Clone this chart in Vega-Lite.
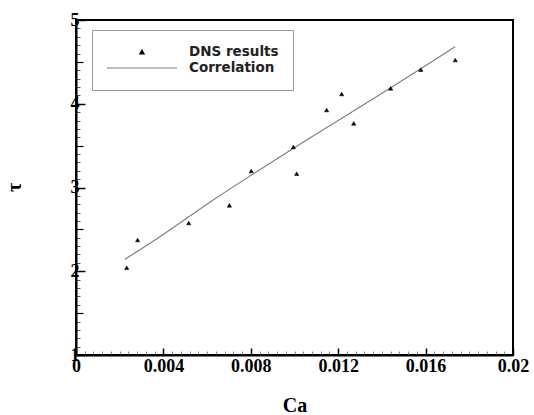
{
  "$schema": "https://vega.github.io/schema/vega-lite/v6.json",
  "width": 437,
  "height": 335,
  "autosize": "none",
  "padding": {"left": 76, "top": 20, "right": 21, "bottom": 60},
  "background": "white",
  "config": {
    "view": {"stroke": "black", "strokeWidth": 2},
    "axis": {
      "labelFont": "Liberation Serif",
      "labelFontWeight": "bold",
      "labelFontSize": 18,
      "labelColor": "black",
      "titleFont": "Liberation Serif",
      "titleFontWeight": "bold",
      "titleFontSize": 20,
      "titleColor": "black",
      "grid": false,
      "domainColor": "black",
      "domainWidth": 2,
      "tickColor": "black"
    }
  },
  "datasets": {
    "dns": [
      {"Ca": 0.00232, "tau": 2.042, "series": "DNS results"},
      {"Ca": 0.00282, "tau": 2.373, "series": "DNS results"},
      {"Ca": 0.00516, "tau": 2.576, "series": "DNS results"},
      {"Ca": 0.00702, "tau": 2.787, "series": "DNS results"},
      {"Ca": 0.00802, "tau": 3.197, "series": "DNS results"},
      {"Ca": 0.00995, "tau": 3.484, "series": "DNS results"},
      {"Ca": 0.0101, "tau": 3.165, "series": "DNS results"},
      {"Ca": 0.01147, "tau": 3.925, "series": "DNS results"},
      {"Ca": 0.01216, "tau": 4.116, "series": "DNS results"},
      {"Ca": 0.01271, "tau": 3.766, "series": "DNS results"},
      {"Ca": 0.0144, "tau": 4.184, "series": "DNS results"},
      {"Ca": 0.01578, "tau": 4.407, "series": "DNS results"},
      {"Ca": 0.01736, "tau": 4.522, "series": "DNS results"}
    ],
    "corr": [
      {"Ca": 0.00224, "tau": 2.143},
      {"Ca": 0.00384, "tau": 2.413},
      {"Ca": 0.00628, "tau": 2.851},
      {"Ca": 0.00995, "tau": 3.468},
      {"Ca": 0.01437, "tau": 4.184},
      {"Ca": 0.01574, "tau": 4.411},
      {"Ca": 0.01735, "tau": 4.681}
    ]
  },
  "layer": [
    {
      "data": {"name": "corr"},
      "mark": {"type": "line", "color": "#808080", "strokeWidth": 1.2, "interpolate": "monotone"},
      "encoding": {
        "x": {"field": "Ca", "type": "quantitative", "scale": {"domain": [0, 0.02], "nice": false, "zero": false},
          "axis": {"orient": "bottom", "values": [0.0004,0.0008,0.0012,0.0016,0.002,0.0024,0.0028,0.0032,0.0036,0.0044,0.0048,0.0052,0.0056,0.006,0.0064,0.0068,0.0072,0.0076,0.0084,0.0088,0.0092,0.0096,0.01,0.0104,0.0108,0.0112,0.0116,0.0124,0.0128,0.0132,0.0136,0.014,0.0144,0.0148,0.0152,0.0156,0.0164,0.0168,0.0172,0.0176,0.018,0.0184,0.0188,0.0192,0.0196], "labels": false, "domain": false, "title": null, "tickSize": -4, "tickColor": "#888888", "tickWidth": 1}},
        "y": {"field": "tau", "type": "quantitative", "scale": {"domain": [1, 5], "nice": false, "zero": false},
          "axis": {"orient": "left", "values": [1.1,1.2,1.3,1.4,1.6,1.7,1.8,1.9,2.1,2.2,2.3,2.4,2.6,2.7,2.8,2.9,3.1,3.2,3.3,3.4,3.6,3.7,3.8,3.9,4.1,4.2,4.3,4.4,4.6,4.7,4.8,4.9], "labels": false, "domain": false, "title": null, "tickSize": -4, "tickColor": "#555555", "tickWidth": 1}}
      }
    },
    {
      "data": {"name": "dns"},
      "mark": {"type": "point", "opacity": 0},
      "encoding": {
        "x": {"field": "Ca", "type": "quantitative", "axis": null},
        "y": {"field": "tau", "type": "quantitative",
          "axis": {"orient": "left", "values": [1.5, 2.5, 3.5, 4.5], "labels": false, "domain": false, "title": null, "tickSize": -7, "tickWidth": 1.2}}
      }
    },
    {
      "data": {"name": "dns"},
      "mark": {"type": "point", "filled": true, "fill": "black", "opacity": 1, "strokeWidth": 0.5},
      "encoding": {
        "x": {"field": "Ca", "type": "quantitative",
          "axis": {"orient": "bottom", "values": [0, 0.004, 0.008, 0.012, 0.016, 0.02], "format": ".3~f", "tickSize": -7, "tickWidth": 1.5, "labelPadding": 9, "title": "Ca", "titlePadding": 20, "labelFlush": false}},
        "y": {"field": "tau", "type": "quantitative",
          "axis": {"orient": "left", "values": [1, 2, 3, 4, 5], "tickSize": -9, "tickWidth": 1.5, "labelPadding": 6, "title": "τ", "titleX": -52, "titleY": 167, "labelFlush": false}},
        "size": {"field": "series", "type": "nominal",
          "scale": {"domain": ["DNS results", "Correlation"], "range": [18, 4900]}},
        "stroke": {"field": "series", "type": "nominal",
          "scale": {"domain": ["DNS results", "Correlation"], "range": ["black", "#808080"]}},
        "shape": {"field": "series", "type": "nominal",
          "scale": {"domain": ["DNS results", "Correlation"], "range": ["triangle-up", "stroke"]},
          "legend": {
            "title": null,
            "orient": "none",
            "legendX": 16,
            "legendY": 10,
            "direction": "vertical",
            "strokeColor": "#999999",
            "padding": 14,
            "clipHeight": 16,
            "rowPadding": 0,
            "labelOffset": 11,
            "labelFont": "DejaVu Sans",
            "labelFontWeight": "bold",
            "labelFontSize": 13.5,
            "labelColor": "#222222",
            "symbolOpacity": 1,
            "symbolStrokeWidth": 1.2
          }}
      }
    }
  ],
  "resolve": {"axis": {"x": "independent", "y": "independent"}}
}
